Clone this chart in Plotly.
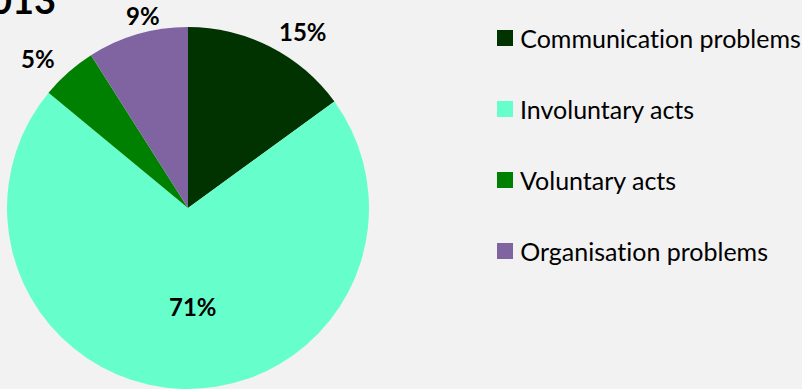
import plotly.graph_objects as go

# Accident causes, share of total (%)
categories = ["Communication problems", "Involuntary acts", "Voluntary acts", "Organisation problems"]
shares = [15, 71, 5, 9]
colors = ["#003300", "#66ffcc", "#008000", "#8064a2"]
title_text = "2013"

W, H = 802, 389
BG = "#f2f2f2"
FONT = "Lato, Carlito, Calibri, sans-serif"


def px_x(x):
    return x / W


def px_y(y):
    return 1 - y / H


fig = go.Figure(
    go.Pie(
        labels=categories,
        values=shares,
        sort=False,
        direction="clockwise",
        rotation=0,
        marker=dict(colors=colors, line=dict(width=0)),
        textinfo="none",
        hoverinfo="label+percent",
        showlegend=False,
        domain=dict(x=[px_x(7), px_x(369)], y=[px_y(389), px_y(27)]),
    )
)

# Data labels placed around the pie
label_pos = [(303, 31), (193, 306), (38, 58), (143, 15)]
annotations = []
for val, (lx, ly) in zip(shares, label_pos):
    annotations.append(
        dict(
            x=px_x(lx), y=px_y(ly), xref="paper", yref="paper",
            text=f"<b>{val}%</b>", showarrow=False,
            xanchor="center", yanchor="middle",
            font=dict(family=FONT, size=24, color="#000000"),
        )
    )

# Chart title, running off the top-left corner
annotations.append(
    dict(
        x=px_x(58), y=px_y(-1), xref="paper", yref="paper",
        text=f"<b>{title_text}</b>", showarrow=False,
        xanchor="right", yanchor="middle",
        font=dict(family=FONT, size=38, color="#000000"),
    )
)

# Legend: coloured squares with category names
shapes = []
legend_y = [38, 109, 180, 251]
for name, col, ly in zip(categories, colors, legend_y):
    shapes.append(
        dict(
            type="rect", xref="paper", yref="paper",
            x0=px_x(497), x1=px_x(513), y0=px_y(ly + 8), y1=px_y(ly - 8),
            fillcolor=col, line=dict(width=0),
        )
    )
    annotations.append(
        dict(
            x=px_x(518), y=px_y(ly), xref="paper", yref="paper",
            text=name, showarrow=False,
            xanchor="left", yanchor="middle",
            font=dict(family=FONT, size=25, color="#000000"),
        )
    )

fig.update_layout(
    width=W, height=H,
    margin=dict(l=0, r=0, t=0, b=0),
    paper_bgcolor=BG, plot_bgcolor=BG,
    annotations=annotations,
    shapes=shapes,
    showlegend=False,
)

# Plain letterforms, no typographic ligatures
no_ligatures = (
    "document.querySelectorAll('svg text').forEach("
    "function(t){t.style.fontVariantLigatures='none';t.style.fontFeatureSettings='\"liga\" 0';});"
)
fig.write_html("out.html", post_script=no_ligatures)
